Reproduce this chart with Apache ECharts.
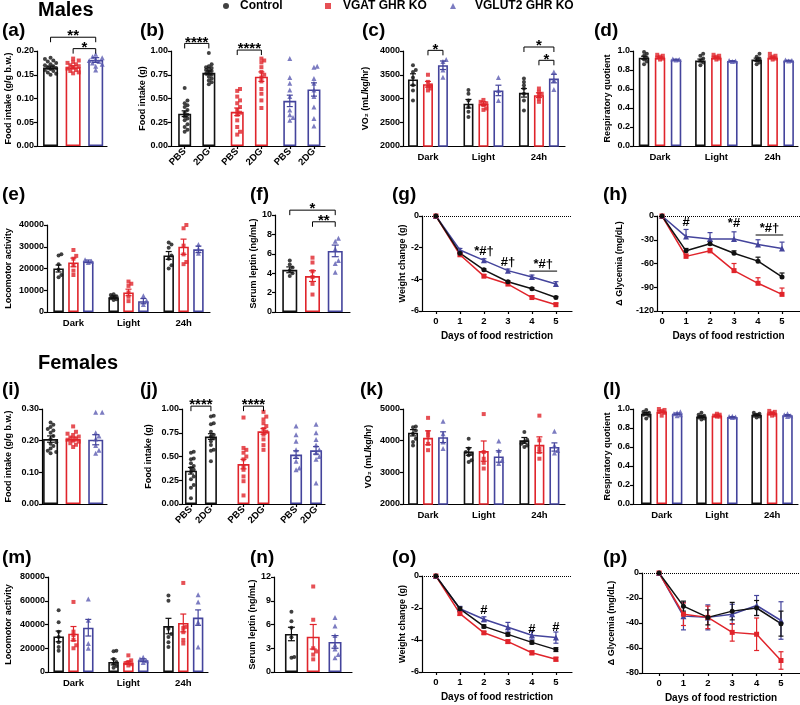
<!DOCTYPE html>
<html><head><meta charset="utf-8">
<script src="https://cdn.jsdelivr.net/npm/echarts@6/dist/echarts.min.js"></script>
<style>html,body{margin:0;padding:0;background:#fff}#chart{width:800px;height:705px}</style>
</head><body><div id="chart"></div>
<script>
// ======================= DATA =======================
const groups = ['Control', 'VGAT GHR KO', 'VGLUT2 GHR KO'];
const periods = ['Dark', 'Light', '24h'];
const treatments = ['PBS', '2DG'];
const days = [0, 1, 2, 3, 4, 5];

// (a) Males - food intake (g/g b.w.)
const aMean = [[0.165], [0.166], [0.181]];
const aSem = [[0.003], [0.003], [0.005]];
const aPts = [
  [[0.186, 0.183, 0.180, 0.178, 0.175, 0.172, 0.170, 0.168, 0.166, 0.164, 0.162, 0.160, 0.158, 0.155, 0.152, 0.150]],
  [[0.184, 0.180, 0.177, 0.175, 0.172, 0.170, 0.168, 0.165, 0.163, 0.160, 0.158, 0.155, 0.153]],
  [[0.193, 0.188, 0.186, 0.183, 0.180, 0.178, 0.175, 0.172, 0.168, 0.160]]
];
const aSig = [[[0, 0], [2, 0], 0.229, '**'], [[1, 0], [2, 0], 0.205, '*']];

// (b) Males - food intake after PBS / 2DG (g)
const bMean = [[0.34, 0.77], [0.36, 0.73], [0.475, 0.595]];
const bSem = [[0.03, 0.02], [0.04, 0.05], [0.06, 0.07]];
const bPts = [
  [[0.61, 0.48, 0.45, 0.43, 0.41, 0.38, 0.35, 0.33, 0.31, 0.29, 0.27, 0.23, 0.20, 0.17, 0.15],
   [0.98, 0.86, 0.84, 0.83, 0.82, 0.81, 0.80, 0.79, 0.78, 0.76, 0.75, 0.73, 0.71, 0.69, 0.67, 0.65]],
  [[0.60, 0.58, 0.52, 0.48, 0.45, 0.41, 0.38, 0.35, 0.33, 0.27, 0.20, 0.15, 0.12],
   [0.92, 0.90, 0.88, 0.83, 0.78, 0.75, 0.72, 0.68, 0.60, 0.55, 0.48, 0.40]],
  [[0.92, 0.72, 0.66, 0.59, 0.52, 0.38, 0.33, 0.30, 0.27],
   [0.84, 0.83, 0.71, 0.66, 0.59, 0.52, 0.41, 0.29, 0.21]]
];
const bSig = [[[0, 0], [0, 1], 1.08, '****'], [[1, 0], [1, 1], 1.01, '****']];

// (c) Males - VO2 (mL/kg/hr)
const cMean = [[3400, 2890, 3120], [3300, 2890, 3070], [3700, 3170, 3420]];
const cSem = [[120, 90, 90], [60, 40, 50], [90, 110, 90]];
const cPts = [
  [[3700, 3600, 3560, 3440, 3280, 3170, 2960], [3180, 3100, 2960, 2820, 2720, 2610], [3420, 3350, 3280, 3210, 3100, 2960, 2750]],
  [[3500, 3350, 3280, 3250, 3210, 3170], [2970, 2930, 2900, 2860, 2790, 2760], [3210, 3140, 3100, 3070, 3000, 2930]],
  [[3820, 3780, 3600, 3450], [3440, 3170, 2960], [3560, 3390, 3190]]
];
const cSig = [[[1, 0], [2, 0], 4014, '*'], [[0, 2], [2, 2], 4084, '*'], [[1, 2], [2, 2], 3804, '*']];

// (d) Males - respiratory quotient
const dMean = [[0.93, 0.90, 0.91], [0.93, 0.93, 0.93], [0.91, 0.895, 0.90]];
const dSem = [[0.015, 0.015, 0.015], [0.008, 0.008, 0.008], [0.004, 0.003, 0.003]];
const dPts = [
  [[0.99, 0.97, 0.95, 0.93, 0.91, 0.89, 0.86], [0.97, 0.95, 0.92, 0.90, 0.88, 0.85], [0.97, 0.94, 0.92, 0.90, 0.88, 0.86]],
  [[0.96, 0.95, 0.94, 0.93, 0.92, 0.91], [0.96, 0.95, 0.94, 0.93, 0.92, 0.91], [0.97, 0.95, 0.94, 0.93, 0.92, 0.91]],
  [[0.915, 0.91, 0.905], [0.90, 0.895, 0.89], [0.905, 0.90, 0.895]]
];

// (e) Males - locomotor activity
const eMean = [[20000, 6800, 26000], [22800, 9000, 30000], [23300, 5000, 28800]];
const eSem = [[1600, 600, 1800], [2000, 1500, 3500], [600, 1200, 1500]];
const ePts = [
  [[26500, 26000, 22000, 19500, 17000, 16000], [8200, 7800, 7200, 6800, 6300, 5900, 5500], [32000, 31000, 29500, 26000, 24500, 21500, 20000]],
  [[28500, 25800, 24500, 21500, 19000, 17000], [14000, 13000, 12000, 9000, 7000, 5000], [40000, 38500, 30500, 26500, 23000, 22000]],
  [[24000, 23300, 22800], [7500, 5200, 3500], [31000, 29000, 27000]]
];

// (f) Males - serum leptin (ng/mL)
const fMean = [[4.35], [3.7], [6.3]];
const fSem = [[0.3], [0.55], [0.6]];
const fPts = [
  [[5.3, 4.9, 4.6, 4.3, 4.0, 3.7]],
  [[5.6, 5.1, 4.2, 3.6, 2.9, 1.8]],
  [[7.6, 7.3, 6.5, 5.3, 5.0, 4.1]]
];
const fSig = [[[0, 0], [2, 0], 10.5, '*'], [[1, 0], [2, 0], 9.3, '**']];

// (g) Males - weight change (g) during food restriction
const gMean = [[0, -2.35, -3.4, -4.15, -4.6, -5.15], [0, -2.45, -3.8, -4.3, -5.15, -5.6], [0, -2.15, -2.8, -3.45, -3.85, -4.3]];
const gSem = [[0, 0.05, 0.06, 0.06, 0.07, 0.07], [0, 0.08, 0.1, 0.08, 0.1, 0.1], [0, 0.1, 0.1, 0.1, 0.12, 0.15]];
const gNotes = [[2, 2, -2.54, '*#†'], [3, 3, -3.19, '#†'], [3.9, 5.05, -3.48, '*#†']];

// (h) Males - delta glycemia (mg/dL)
const hMean = [[0, -44, -35, -47, -57, -77], [0, -51, -44, -69, -85, -99], [0, -26, -29, -29, -36, -41]];
const hSem = [[0, 3, 3, 3, 5, 5], [0, 3, 3, 9, 7, 8], [0, 9, 8, 9, 6, 8]];
const hNotes = [[1, 1, -13.5, '#'], [3, 3, -15.6, '*#'], [3.9, 5.05, -24, '*#†']];

// (i) Females - food intake (g/g b.w.)
const iMean = [[0.205], [0.205], [0.203]];
const iSem = [[0.01], [0.006], [0.016]];
const iPts = [
  [[0.257, 0.250, 0.243, 0.237, 0.232, 0.225, 0.215, 0.205, 0.195, 0.190, 0.183, 0.175, 0.168, 0.164, 0.160]],
  [[0.245, 0.228, 0.222, 0.218, 0.213, 0.210, 0.207, 0.203, 0.200, 0.197, 0.192, 0.187, 0.180]],
  [[0.290, 0.290, 0.225, 0.215, 0.205, 0.185, 0.170, 0.160]]
];

// (j) Females - food intake after PBS / 2DG (g)
const jMean = [[0.35, 0.71], [0.42, 0.765], [0.52, 0.565]];
const jSem = [[0.035, 0.03], [0.05, 0.03], [0.04, 0.04]];
const jPts = [
  [[0.55, 0.54, 0.48, 0.47, 0.43, 0.40, 0.38, 0.36, 0.34, 0.29, 0.26, 0.20, 0.17, 0.06],
   [0.93, 0.92, 0.85, 0.84, 0.76, 0.73, 0.71, 0.69, 0.66, 0.62, 0.57, 0.56, 0.45]],
  [[0.91, 0.59, 0.57, 0.54, 0.50, 0.47, 0.40, 0.36, 0.29, 0.24, 0.09],
   [0.97, 0.92, 0.89, 0.85, 0.82, 0.79, 0.76, 0.73, 0.68, 0.62, 0.57]],
  [[0.82, 0.73, 0.66, 0.57, 0.50, 0.45, 0.38, 0.36],
   [0.84, 0.75, 0.68, 0.62, 0.57, 0.54, 0.50, 0.47, 0.22]]
];
const jSig = [[[0, 0], [0, 1], 1.03, '****'], [[1, 0], [1, 1], 1.03, '****']];

// (k) Females - VO2 (mL/kg/hr)
const kMean = [[4250, 3660, 4010], [4090, 3670, 3870], [4110, 3500, 3800]];
const kSem = [[100, 120, 90], [220, 320, 250], [170, 180, 130]];
const kPts = [
  [[4450, 4420, 4320, 4220, 4060, 3960, 3850], [4060, 3750, 3640, 3590, 3540, 3380, 3330], [4270, 4030, 3960, 3900, 3850, 3800]],
  [[4720, 4270, 4160, 3900, 3700], [4840, 3640, 3430, 3300, 3120], [4790, 4010, 3750, 3640, 3430]],
  [[4610, 4220, 3960, 3750], [3990, 3690, 3380, 3280], [4300, 3850, 3690, 3610]]
];

// (l) Females - respiratory quotient
const lMean = [[0.95, 0.92, 0.94], [0.97, 0.93, 0.955], [0.95, 0.915, 0.935]];
const lSem = [[0.012, 0.008, 0.007], [0.01, 0.005, 0.007], [0.008, 0.004, 0.006]];
const lPts = [
  [[0.99, 0.97, 0.96, 0.95, 0.94, 0.93, 0.90], [0.96, 0.94, 0.93, 0.92, 0.91, 0.90, 0.89], [0.96, 0.95, 0.94, 0.93, 0.92, 0.91]],
  [[1.00, 0.99, 0.98, 0.97, 0.96, 0.93], [0.95, 0.94, 0.93, 0.93, 0.92, 0.92], [0.98, 0.97, 0.96, 0.95, 0.94, 0.93]],
  [[0.97, 0.96, 0.95, 0.94, 0.93], [0.925, 0.92, 0.915, 0.91], [0.95, 0.94, 0.93, 0.92]]
];

// (m) Females - locomotor activity
const mMean = [[30000, 8500, 38700], [32300, 7700, 41300], [37300, 9900, 45800]];
const mSem = [[4500, 2500, 6500], [6000, 1200, 7500], [7000, 1200, 6500]];
const mPts = [
  [[52000, 42000, 34000, 29500, 25000, 21000, 18000], [18000, 17500, 11000, 8500, 7000, 5000, 3500], [64500, 60000, 36500, 32000, 29500, 25000, 21000]],
  [[59000, 34000, 31000, 27000, 22500, 20000], [14000, 9800, 8400, 7500, 6500, 5500], [75000, 38000, 37000, 33500, 27000, 24000]],
  [[61500, 43500, 24000, 20000], [12500, 11000, 9500, 8000], [65000, 59000, 42000, 21000]]
];

// (n) Females - serum leptin (ng/mL)
const nMean = [[4.8], [4.45], [3.8]];
const nSem = [[0.85], [1.55], [0.8]];
const nPts = [
  [[7.6, 6.4, 5.6, 4.4, 1.9, 1.8]],
  [[10.8, 6.6, 3.0, 2.6, 2.2, 1.6]],
  [[6.9, 5.8, 4.6, 3.4, 2.9, 2.2, 1.8]]
];

// (o) Females - weight change (g)
const oMean = [[0, -2.05, -3.15, -3.65, -4.15, -4.6], [0, -2.35, -3.55, -4.1, -4.8, -5.2], [0, -2.05, -2.7, -3.2, -3.7, -3.85]];
const oSem = [[0, 0.1, 0.1, 0.1, 0.1, 0.12], [0, 0.1, 0.08, 0.1, 0.12, 0.12], [0, 0.15, 0.15, 0.3, 0.25, 0.35]];
const oNotes = [[2, 2, -2.45, '#'], [4, 4, -3.6, '#'], [5, 5, -3.5, '#']];

// (p) Females - delta glycemia (mg/dL)
const pMean = [[0, -26.5, -35.5, -30.5, -28, -40.5], [0, -33, -35.5, -47.5, -49, -70], [0, -34.5, -35.5, -33, -26, -38]];
const pSem = [[0, 4, 6, 7, 6, 10], [0, 9, 9, 7, 13, 7], [0, 11, 10, 8, 8, 15]];

// ======================= STYLE / LAYOUT =======================
const FONT = "'Liberation Sans', Arial, Helvetica, sans-serif";
const BAR_C = ['#111111', '#e0242b', '#44449c'];
const DOT_C = ['#111111', '#e0242b', '#5b5bb2'];
const SYM = ['circle', 'rect', 'triangle'];
const SYM_SIZE = [4, 4, 5];
const LSYM_SIZE = [5, 5, 6];
const DOT_R = [3.3, 3.3, 3.8];

const singlePos = [[1], [2], [3]];
const groupedPos = d => [0, 1, 2].map(g => periods.map((_, k) => k + 1 + (g - 1) * d));
const pairPos = d => [0, 1, 2].map(g => treatments.map((_, k) => g + 1 + (k ? d : -d)));

const LAYOUT = {
  a: {grid: [37, 51, 70, 95], xr: [0.4, 3.5], bw: 15, cap: 3.5, pos: singlePos, y: {min: 0, max: 0.2, step: 0.05, dec: 2, name: 'Food intake (g/g b.w.)', gap: 24}},
  b: {grid: [171, 51, 154, 95], xr: [0.51, 3.44], bw: 13, cap: 3, pos: pairPos(0.23), labels: 'pairs', rotate: 45, xmargin: 4, y: {min: 0, max: 1, step: 0.25, dec: 2, name: 'Food intake (g)', gap: 22}},
  c: {grid: [403, 51, 162, 95], xr: [0.55, 3.47], bw: 10, cap: 3, pos: groupedPos(0.27), labels: 'periods', xmargin: 6, y: {min: 2000, max: 4000, step: 500, dec: 0, name: 'VO\u2082 (mL/kg/hr)', gap: 33}},
  d: {grid: [633, 51, 165, 95], xr: [0.52, 3.45], bw: 10.5, cap: 3, pos: groupedPos(0.284), labels: 'periods', xmargin: 6, y: {min: 0, max: 1, step: 0.2, dec: 1, name: 'Respiratory quotient', gap: 21}},
  e: {grid: [47, 225, 163, 87], xr: [0.52, 3.48], bw: 10.5, cap: 3, pos: groupedPos(0.27), labels: 'periods', xmargin: 6, y: {min: 0, max: 40000, step: 10000, dec: 0, name: 'Locomotor activity', gap: 34}},
  f: {grid: [275, 215, 75, 97], xr: [0.35, 3.65], bw: 15, cap: 3.5, pos: singlePos, y: {min: 0, max: 10, step: 2, dec: 0, name: 'Serum leptin (ng/mL)', gap: 13}},
  g: {grid: [422, 216, 150, 95], xr: [-0.58, 5.67], err: 'up', y: {min: -6, max: 0, step: 2, dec: 0, name: 'Weight change (g)', gap: 14}},
  h: {grid: [657, 216, 143, 95], xr: [-0.21, 5.75], err: 'up', y: {min: -120, max: 0, step: 30, dec: 0, name: '\u0394 Glycemia (mg/dL)', gap: 33}},
  i: {grid: [42, 409, 65, 95], xr: [0.62, 3.5], bw: 15, cap: 3.5, pos: singlePos, y: {min: 0, max: 0.3, step: 0.1, dec: 2, name: 'Food intake (g/g b.w.)', gap: 29}},
  j: {grid: [182, 409, 143, 95], xr: [0.64, 3.36], bw: 12, cap: 3, pos: pairPos(0.19), labels: 'pairs', rotate: 45, xmargin: 4, y: {min: 0, max: 1, step: 0.25, dec: 2, name: 'Food intake (g)', gap: 29}},
  k: {grid: [403, 409, 162, 95], xr: [0.55, 3.46], bw: 10, cap: 3, pos: groupedPos(0.27), labels: 'periods', xmargin: 6, y: {min: 2000, max: 5000, step: 1000, dec: 0, name: 'VO\u2082 (mL/kg/hr)', gap: 30}},
  l: {grid: [633, 409, 165, 95], xr: [0.48, 3.47], bw: 10.5, cap: 3, pos: groupedPos(0.28), labels: 'periods', xmargin: 6, y: {min: 0, max: 1, step: 0.2, dec: 1, name: 'Respiratory quotient', gap: 21}},
  m: {grid: [48, 577, 160, 95], xr: [0.536, 3.45], bw: 10.5, cap: 3, pos: groupedPos(0.27), labels: 'periods', xmargin: 6, y: {min: 0, max: 80000, step: 20000, dec: 0, name: 'Locomotor activity', gap: 35}},
  n: {grid: [274, 577, 78, 95], xr: [0.2, 3.78], bw: 13, cap: 3.5, pos: singlePos, y: {min: 0, max: 12, step: 3, dec: 0, name: 'Serum leptin (ng/mL)', gap: 11}},
  o: {grid: [422, 576, 150, 96], xr: [-0.58, 5.67], err: 'both', y: {min: -6, max: 0, step: 2, dec: 0, name: 'Weight change (g)', gap: 14}},
  p: {grid: [642, 573, 158, 100], xr: [-0.7, 5.78], err: 'both', y: {min: -80, max: 0, step: 20, dec: 0, name: '\u0394 Glycemia (mg/dL)', gap: 26}}
};

const TITLES = [
  ['Males', 38, 0, 20], ['Females', 38, 353, 20],
  ['(a)', 2, 21, 19], ['(b)', 140, 21, 19], ['(c)', 362, 21, 19], ['(d)', 594, 21, 19],
  ['(e)', 2, 185, 19], ['(f)', 250, 185, 19], ['(g)', 392, 185, 19], ['(h)', 603, 185, 19],
  ['(i)', 2, 380, 19], ['(j)', 140, 380, 19], ['(k)', 360, 380, 19], ['(l)', 603, 380, 19],
  ['(m)', 2, 548, 19], ['(n)', 250, 548, 19], ['(o)', 392, 548, 19], ['(p)', 603, 548, 19]
];
const LEGEND_POS = [[223, 6], [325, 7], [450, 14]];

// ======================= BUILD =======================
const option = {
  animation: false, backgroundColor: '#ffffff', textStyle: {fontFamily: FONT},
  title: [], legend: [], grid: [], xAxis: [], yAxis: [], series: []
};

TITLES.forEach(t => option.title.push({text: t[0], left: t[1], top: t[2], padding: 0,
  textStyle: {fontFamily: FONT, fontWeight: 'bold', fontSize: t[3], color: '#000'}}));

groups.forEach((name, g) => option.legend.push({
  left: LEGEND_POS[g][0], top: 0, padding: 0, selectedMode: false, itemWidth: 6, itemHeight: 6,
  data: [{name, icon: SYM[g], itemStyle: {color: DOT_C[g]}}],
  textStyle: {fontFamily: FONT, fontWeight: 'bold', fontSize: 12, color: '#000', padding: [0, 0, 0, LEGEND_POS[g][1]]}
}));

function addGrid(r) {
  option.grid.push({left: r[0], top: r[1], width: r[2], height: r[3], containLabel: false, outerBoundsMode: 'none'});
  return option.grid.length - 1;
}
const axLine = {color: '#000', width: 1.2};
function yAxisOpt(gi, Y) {
  return {
    type: 'value', gridIndex: gi, min: Y.min, max: Y.max, interval: Y.step,
    axisLine: {show: true, onZero: false, lineStyle: axLine},
    axisTick: {show: true, length: 3, lineStyle: axLine},
    axisLabel: {margin: 3, color: '#000', fontFamily: FONT, fontWeight: 'bold', fontSize: 9,
      formatter: v => Number(v).toFixed(Y.dec)},
    splitLine: {show: false},
    name: Y.name, nameLocation: 'middle', nameGap: Y.gap, nameRotate: 90,
    nameTextStyle: {color: '#000', fontFamily: FONT, fontWeight: 'bold', fontSize: 9}
  };
}
function xAxisOpt(gi, P, ticks, fmt, showTicks, name) {
  const o = {
    type: 'value', gridIndex: gi, min: P.xr[0], max: P.xr[1],
    axisLine: {show: true, onZero: false, lineStyle: axLine},
    axisTick: {show: !!ticks && showTicks, length: 3, lineStyle: axLine},
    axisLabel: {show: !!ticks, margin: P.xmargin || 5, rotate: P.rotate || 0, color: '#000',
      fontFamily: FONT, fontWeight: 'bold', fontSize: 9.5, formatter: fmt},
    splitLine: {show: false}
  };
  if (ticks) { o.axisTick.customValues = ticks; o.axisLabel.customValues = ticks; }
  if (name) Object.assign(o, {name, nameLocation: 'middle', nameGap: 20,
    nameTextStyle: {color: '#000', fontFamily: FONT, fontWeight: 'bold', fontSize: 10}});
  return o;
}
// beeswarm placement (layout only): spreads overlapping dots sideways, kept within the bar
function swarm(vals, cx, pxX, pxY, r, maxOff) {
  const order = vals.map((v, i) => i).sort((a, b) => vals[a] - vals[b]);
  const placed = [], out = [];
  const step = r * 0.85;
  const maxK = Math.max(1, Math.floor(maxOff / step));
  const cand = [0];
  for (let k = 1; k <= maxK; k++) cand.push(k, -k);
  for (const i of order) {
    const yp = vals[i] * pxY;
    let best = 0, bestD = -1;
    for (const k of cand) {
      const xp = k * step;
      let dmin = Infinity;
      placed.forEach(p => { dmin = Math.min(dmin, Math.hypot(p[0] - xp, p[1] - yp)); });
      if (dmin >= r) { best = xp; bestD = Infinity; break; }
      if (dmin > bestD + 0.3) { bestD = dmin; best = xp; }
    }
    placed.push([best, yp]);
    out[i] = [cx + best / pxX, vals[i]];
  }
  return out;
}
function errSeries(xi, yi, data, color, cap, mode, z) {
  return {
    type: 'custom', xAxisIndex: xi, yAxisIndex: yi, silent: true, z, clip: false,
    encode: {x: 0, y: 1}, data,
    renderItem: (params, api) => {
      const x = api.value(0), m = api.value(1), s = api.value(2);
      if (!(s > 0)) return null;
      const t = api.coord([x, m + s]);
      const b = api.coord([x, mode === 'up' ? m : m - s]);
      const st = {stroke: color, lineWidth: 1.2, fill: null};
      const ch = [
        {type: 'line', shape: {x1: t[0], y1: t[1], x2: b[0], y2: b[1]}, style: st},
        {type: 'line', shape: {x1: t[0] - cap, y1: t[1], x2: t[0] + cap, y2: t[1]}, style: st}
      ];
      if (mode !== 'up') ch.push({type: 'line', shape: {x1: b[0] - cap, y1: b[1], x2: b[0] + cap, y2: b[1]}, style: st});
      return {type: 'group', children: ch};
    }
  };
}
function annSeries(xi, yi, items, kind, fs) {
  return {
    type: 'custom', xAxisIndex: xi, yAxisIndex: yi, silent: true, z: 6, clip: false,
    encode: {x: [0, 1], y: 2}, data: items.map(it => [it.x1, it.x2, it.y]),
    renderItem: (params, api) => {
      const it = items[params.dataIndex];
      const p1 = api.coord([it.x1, it.y]), p2 = api.coord([it.x2, it.y]);
      const st = {stroke: '#000', lineWidth: 1, fill: null};
      const ch = [];
      let ty;
      if (it.x1 !== it.x2) {
        if (kind === 'bracket') {
          ch.push({type: 'polyline', shape: {points: [[p1[0], p1[1] + 5], [p1[0], p1[1]], [p2[0], p2[1]], [p2[0], p2[1] + 5]]}, style: st});
          ty = p1[1] - 2 + 0.57 * fs;
        } else {
          ch.push({type: 'line', shape: {x1: p1[0], y1: p1[1], x2: p2[0], y2: p2[1]}, style: st});
          ty = p1[1] - 2 + 0.15 * fs;
        }
      } else {
        ty = p1[1] + 0.15 * fs;
      }
      ch.push({type: 'text', style: {text: it.t, x: (p1[0] + p2[0]) / 2, y: ty,
        align: 'center', verticalAlign: 'bottom', textAlign: 'center', textVerticalAlign: 'bottom',
        font: 'bold ' + fs + 'px ' + FONT, fill: '#000'}});
      return {type: 'group', children: ch};
    }
  };
}

function barPanel(P, D) {
  const gi = addGrid(P.grid);
  const xi = option.xAxis.length, yi = option.yAxis.length;
  let ticks = null, texts = null;
  if (P.labels === 'periods') { ticks = [1, 2, 3]; texts = periods; }
  if (P.labels === 'pairs') { ticks = P.pos.flat(); texts = P.pos.flatMap(() => treatments); }
  const fmt = v => { const i = ticks ? ticks.findIndex(t => Math.abs(t - v) < 1e-6) : -1; return i >= 0 ? texts[i] : ''; };
  option.xAxis.push(xAxisOpt(gi, P, ticks, fmt, P.labels === 'pairs'));
  option.yAxis.push(yAxisOpt(gi, P.y));
  const pxX = P.grid[2] / (P.xr[1] - P.xr[0]);
  const pxY = P.grid[3] / (P.y.max - P.y.min);
  for (let g = 0; g < 3; g++) {
    option.series.push({type: 'bar', xAxisIndex: xi, yAxisIndex: yi, barWidth: P.bw, barGap: '-100%', silent: true, z: 2,
      data: P.pos[g].map((x, k) => [x, D.mean[g][k]]),
      itemStyle: {color: 'rgba(255,255,255,0)', borderColor: BAR_C[g], borderWidth: 1.6}});
  }
  for (let g = 0; g < 3; g++) {
    const data = [];
    P.pos[g].forEach((x, k) => swarm(D.pts[g][k], x, pxX, pxY, DOT_R[g], P.bw / 2 - 1).forEach(p => data.push(p)));
    option.series.push({type: 'scatter', name: groups[g], xAxisIndex: xi, yAxisIndex: yi, symbol: SYM[g],
      symbolSize: SYM_SIZE[g], silent: true, z: 3, itemStyle: {color: DOT_C[g]}, data});
  }
  for (let g = 0; g < 3; g++) {
    option.series.push(errSeries(xi, yi, P.pos[g].map((x, k) => [x, D.mean[g][k], D.sem[g][k]]), BAR_C[g], P.cap, 'both', 4));
  }
  if (D.sig) {
    const items = D.sig.map(s => ({x1: P.pos[s[0][0]][s[0][1]], x2: P.pos[s[1][0]][s[1][1]], y: s[2], t: s[3]}));
    option.series.push(annSeries(xi, yi, items, 'bracket', 15));
  }
}

function linePanel(P, D) {
  const gi = addGrid(P.grid);
  const xi = option.xAxis.length, yi = option.yAxis.length;
  option.xAxis.push(xAxisOpt(gi, P, days, v => String(v), true, 'Days of food restriction'));
  option.yAxis.push(yAxisOpt(gi, P.y));
  [2, 1, 0].forEach(g => option.series.push(errSeries(xi, yi, days.map((d, k) => [d, D.mean[g][k], D.sem[g][k]]), BAR_C[g], 2.5, P.err, 2)));
  [2, 1, 0].forEach((g, n) => {
    const s = {type: 'line', name: groups[g], xAxisIndex: xi, yAxisIndex: yi, silent: true, z: 3,
      data: days.map((d, k) => [d, D.mean[g][k]]), symbol: SYM[g], symbolSize: LSYM_SIZE[g], showSymbol: true,
      itemStyle: {color: BAR_C[g]}, lineStyle: {color: BAR_C[g], width: 1.5}};
    if (n === 0) s.markLine = {silent: true, symbol: 'none', label: {show: false},
      lineStyle: {type: 'dotted', color: '#000', width: 1}, data: [{yAxis: 0}]};
    option.series.push(s);
  });
  if (D.notes) option.series.push(annSeries(xi, yi, D.notes.map(n => ({x1: n[0], x2: n[1], y: n[2], t: n[3]})), 'line', 13));
}

barPanel(LAYOUT.a, {mean: aMean, sem: aSem, pts: aPts, sig: aSig});
barPanel(LAYOUT.b, {mean: bMean, sem: bSem, pts: bPts, sig: bSig});
barPanel(LAYOUT.c, {mean: cMean, sem: cSem, pts: cPts, sig: cSig});
barPanel(LAYOUT.d, {mean: dMean, sem: dSem, pts: dPts});
barPanel(LAYOUT.e, {mean: eMean, sem: eSem, pts: ePts});
barPanel(LAYOUT.f, {mean: fMean, sem: fSem, pts: fPts, sig: fSig});
linePanel(LAYOUT.g, {mean: gMean, sem: gSem, notes: gNotes});
linePanel(LAYOUT.h, {mean: hMean, sem: hSem, notes: hNotes});
barPanel(LAYOUT.i, {mean: iMean, sem: iSem, pts: iPts});
barPanel(LAYOUT.j, {mean: jMean, sem: jSem, pts: jPts, sig: jSig});
barPanel(LAYOUT.k, {mean: kMean, sem: kSem, pts: kPts});
barPanel(LAYOUT.l, {mean: lMean, sem: lSem, pts: lPts});
barPanel(LAYOUT.m, {mean: mMean, sem: mSem, pts: mPts});
barPanel(LAYOUT.n, {mean: nMean, sem: nSem, pts: nPts});
linePanel(LAYOUT.o, {mean: oMean, sem: oSem, notes: oNotes});
linePanel(LAYOUT.p, {mean: pMean, sem: pSem});

const chart = echarts.init(document.getElementById('chart'), null, {renderer: 'canvas'});
chart.setOption(option);
</script>
</body></html>
